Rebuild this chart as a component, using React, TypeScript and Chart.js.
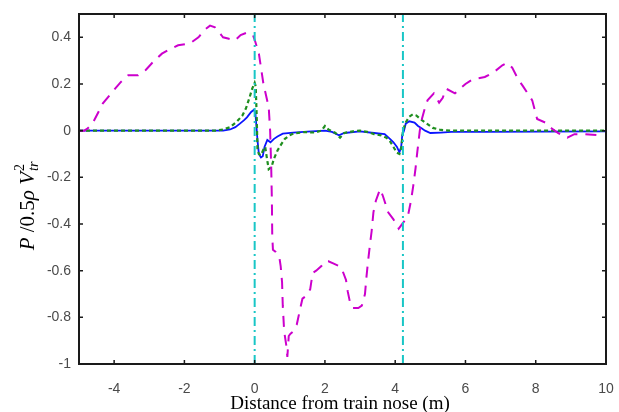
import React, { useEffect, useRef } from "react";
import { Chart, registerables } from "chart.js";

Chart.register(...registerables);

// ---- data ----
const magentaX = [-5, -4.85, -4.75, -4.6, -4.32, -4.03, -3.8, -3.6, -3.32, -3.1, -2.92, -2.64, -2.4, -2.18, -1.84, -1.6, -1.41, -1.27, -1.13, -0.95, -0.9, -0.76, -0.56, -0.4, -0.22, -0.05, 0.02, 0.12, 0.25, 0.4, 0.44, 0.47, 0.49, 0.5, 0.52, 0.6, 0.7, 0.74, 0.78, 0.8, 0.84, 0.9, 0.93, 0.97, 1.02, 1.1, 1.2, 1.3, 1.36, 1.45, 1.58, 1.65, 1.75, 1.9, 2.0, 2.1, 2.25, 2.4, 2.5, 2.6, 2.65, 2.72, 2.8, 2.95, 3.05, 3.14, 3.18, 3.22, 3.28, 3.33, 3.38, 3.45, 3.57, 3.65, 3.8, 3.95, 4.1, 4.25, 4.37, 4.45, 4.52, 4.58, 4.63, 4.7, 4.76, 4.85, 4.92, 5.1, 5.25, 5.35, 5.45, 5.7, 6.0, 6.2, 6.55, 6.8, 7.05, 7.18, 7.33, 7.5, 7.64, 7.9, 8.04, 8.27, 8.45, 8.63, 8.9, 9.1, 9.4, 9.8];
const magentaY = [0, 0, 0.01, 0.035, 0.117, 0.17, 0.21, 0.237, 0.237, 0.26, 0.29, 0.33, 0.35, 0.366, 0.374, 0.4, 0.434, 0.45, 0.443, 0.41, 0.4, 0.395, 0.387, 0.41, 0.42, 0.41, 0.38, 0.33, 0.2, 0.1, 0.0, -0.15, -0.3, -0.45, -0.51, -0.52, -0.54, -0.58, -0.65, -0.75, -0.86, -0.92, -0.97, -0.88, -0.87, -0.86, -0.83, -0.76, -0.72, -0.71, -0.68, -0.61, -0.6, -0.58, -0.56, -0.56, -0.57, -0.58, -0.6, -0.64, -0.69, -0.74, -0.76, -0.76, -0.75, -0.7, -0.63, -0.57, -0.49, -0.43, -0.35, -0.3, -0.25, -0.28, -0.35, -0.38, -0.42, -0.39, -0.36, -0.3, -0.23, -0.16, -0.09, 0.0, 0.05, 0.1, 0.13, 0.16, 0.12, 0.14, 0.18, 0.16, 0.2, 0.22, 0.23, 0.25, 0.28, 0.29, 0.27, 0.22, 0.19, 0.13, 0.05, 0.035, 0.01, -0.01, -0.03, -0.015, -0.015, -0.02];

const greenX = [-5, -1.1, -0.9, -0.7, -0.5, -0.35, -0.25, -0.15, -0.07, 0.0, 0.03, 0.06, 0.08, 0.12, 0.18, 0.25, 0.3, 0.35, 0.4, 0.48, 0.55, 0.65, 0.75, 0.86, 1.0, 1.1, 1.4, 1.7, 1.9, 2.0, 2.1, 2.3, 2.43, 2.55, 2.8, 3.0, 3.2, 3.4, 3.6, 3.75, 3.85, 3.95, 4.05, 4.12, 4.18, 4.22, 4.3, 4.4, 4.5, 4.6, 4.76, 4.9, 5.07, 5.3, 5.6, 10];
const greenY = [0, 0, 0.005, 0.015, 0.04, 0.065, 0.095, 0.14, 0.18, 0.205, 0.19, 0.05, -0.08, -0.1, -0.105, -0.08, -0.07, -0.12, -0.165, -0.155, -0.12, -0.085, -0.06, -0.035, -0.02, -0.012, -0.006, -0.008, 0.0, 0.02, 0.005, -0.01, -0.03, -0.01, -0.003, 0.0, -0.005, -0.015, -0.02, -0.03, -0.045, -0.07, -0.095, -0.1, -0.07, 0.0, 0.035, 0.06, 0.07, 0.065, 0.045, 0.03, 0.012, 0.003, 0.0, 0.0];

const blueX = [-5, -0.9, -0.7, -0.55, -0.42, -0.3, -0.22, -0.1, -0.02, 0.02, 0.05, 0.08, 0.12, 0.18, 0.23, 0.28, 0.36, 0.45, 0.55, 0.65, 0.8, 1.1, 1.5, 2.0, 2.2, 2.4, 2.55, 3.0, 3.4, 3.7, 3.85, 3.95, 4.05, 4.12, 4.17, 4.2, 4.25, 4.3, 4.4, 4.55, 4.65, 4.75, 4.85, 5.0, 5.3, 5.6, 6.5, 10];
const blueY = [0, 0, 0.005, 0.015, 0.03, 0.045, 0.057, 0.08, 0.09, 0.075, 0.02, -0.04, -0.1, -0.115, -0.11, -0.07, -0.04, -0.05, -0.035, -0.025, -0.013, -0.008, -0.004, 0.0, -0.005, -0.02, -0.01, -0.003, -0.01, -0.015, -0.035, -0.05, -0.07, -0.093, -0.07, -0.02, 0.0, 0.03, 0.04, 0.035, 0.02, 0.01, 0.0, -0.01, -0.008, -0.005, -0.005, -0.003];

const markerX = [0, 4.22];

const xTickValues = [-4, -2, 0, 2, 4, 6, 8, 10];
const yTickValues = [-1, -0.8, -0.6, -0.4, -0.2, 0, 0.2, 0.4];

const X_MIN = -5, X_MAX = 10, Y_MIN = -1, Y_MAX = 0.5;

const zip = (xs: number[], ys: number[]) => xs.map((x, i) => ({ x, y: ys[i] }));

const framePlugin = {
  id: "frame",
  afterDraw(chart: any) {
    const { ctx, chartArea: a, scales } = chart;
    ctx.save();
    ctx.strokeStyle = "#1a1a1a";
    ctx.lineWidth = 2;
    ctx.strokeRect(a.left, a.top, a.right - a.left, a.bottom - a.top);
    ctx.lineWidth = 1.5;
    const tl = 4;
    ctx.beginPath();
    for (const v of xTickValues) {
      if (v <= X_MIN || v >= X_MAX) continue;
      const px = scales.x.getPixelForValue(v);
      ctx.moveTo(px, a.bottom);
      ctx.lineTo(px, a.bottom - tl);
      ctx.moveTo(px, a.top);
      ctx.lineTo(px, a.top + tl);
    }
    for (const v of yTickValues) {
      if (v <= Y_MIN || v >= Y_MAX) continue;
      const py = scales.y.getPixelForValue(v);
      ctx.moveTo(a.left, py);
      ctx.lineTo(a.left + tl, py);
      ctx.moveTo(a.right, py);
      ctx.lineTo(a.right - tl, py);
    }
    ctx.stroke();

    // x title
    ctx.fillStyle = "#000";
    ctx.font = '19px "Liberation Serif"';
    ctx.textAlign = "center";
    ctx.textBaseline = "alphabetic";
    ctx.fillText("Distance from train nose (m)", 340, 409);

    // y title (rotated, with sub/superscript)
    const big = 21, small = 14;
    const fam = '"Liberation Serif"';
    const pieces: { t: string; f: string }[] = [
      { t: "P", f: `italic ${big}px ${fam}` },
      { t: " /0.5", f: `${big}px ${fam}` },
      { t: "ρ", f: `italic ${big}px ${fam}` },
      { t: " V", f: `italic ${big}px ${fam}` },
    ];
    let total = 0;
    for (const p of pieces) { ctx.font = p.f; total += ctx.measureText(p.t).width; }
    ctx.font = `italic ${small}px ${fam}`;
    const wSub = ctx.measureText("tr").width;
    ctx.font = `${small}px ${fam}`;
    const wSup = ctx.measureText("2").width;
    total += Math.max(wSub, wSup) + 1;

    ctx.translate(34, 206);
    ctx.rotate(-Math.PI / 2);
    ctx.textAlign = "left";
    let x = -total / 2;
    for (const p of pieces) {
      ctx.font = p.f;
      ctx.fillText(p.t, x, 0);
      x += ctx.measureText(p.t).width;
    }
    x += 1;
    ctx.font = `italic ${small}px ${fam}`;
    ctx.fillText("tr", x, 4);
    ctx.font = `${small}px ${fam}`;
    ctx.fillText("2", x, -10);
    ctx.restore();
  },
};

export default function App() {
  const ref = useRef<HTMLCanvasElement | null>(null);
  useEffect(() => {
    if (!ref.current) return;
    const vertical = (x: number) => [{ x, y: Y_MIN }, { x, y: Y_MAX }];
    const chart = new Chart(ref.current, {
      type: "line",
      data: {
        datasets: [
          ...markerX.map((mx) => ({
            data: vertical(mx),
            borderColor: "#19c6c6",
            borderWidth: 2,
            borderDash: [9, 4, 2, 4],
            pointRadius: 0,
          })),
          {
            data: zip(magentaX, magentaY),
            borderColor: "#cc00cc",
            borderWidth: 2,
            borderDash: [11, 8],
            pointRadius: 0,
          },
          {
            data: zip(greenX, greenY),
            borderColor: "#1f8f1f",
            borderWidth: 2.2,
            borderDash: [4, 3],
            pointRadius: 0,
          },
          {
            data: zip(blueX, blueY),
            borderColor: "#0a14ff",
            borderWidth: 1.8,
            pointRadius: 0,
          },
        ],
      },
      options: {
        animation: false,
        responsive: false,
        devicePixelRatio: 1,
        layout: { padding: { left: 0, top: 14, right: 13, bottom: 0 } },
        plugins: { legend: { display: false }, tooltip: { enabled: false } },
        elements: { line: { tension: 0 } },
        scales: {
          x: {
            type: "linear",
            min: X_MIN,
            max: X_MAX,
            grid: { display: false, drawTicks: false },
            border: { display: false },
            afterBuildTicks: (s: any) => { s.ticks = xTickValues.map((v) => ({ value: v })); },
            afterFit: (s: any) => { s.height = 48; s.paddingLeft = 0; s.paddingRight = 0; },
            ticks: {
              autoSkip: false,
              maxRotation: 0,
              padding: 17,
              color: "#4a4a4a",
              font: { family: '"Liberation Sans"', size: 14 },
              callback: (v: any) => String(v),
            },
          },
          y: {
            type: "linear",
            min: Y_MIN,
            max: Y_MAX,
            grid: { display: false, drawTicks: false },
            border: { display: false },
            afterBuildTicks: (s: any) => { s.ticks = yTickValues.map((v) => ({ value: v })); },
            afterFit: (s: any) => { s.width = 79; s.paddingTop = 0; s.paddingBottom = 0; },
            ticks: {
              autoSkip: false,
              padding: 8,
              color: "#4a4a4a",
              font: { family: '"Liberation Sans"', size: 14 },
              callback: (v: any) => String(Math.round(Number(v) * 10) / 10),
            },
          },
        },
      },
      plugins: [framePlugin],
    } as any);
    return () => chart.destroy();
  }, []);
  return (
    <div style={{ position: "fixed", left: 0, top: 0, width: 619, height: 412, background: "#fff" }}>
      <canvas ref={ref} width={619} height={412} style={{ display: "block" }} />
    </div>
  );
}
